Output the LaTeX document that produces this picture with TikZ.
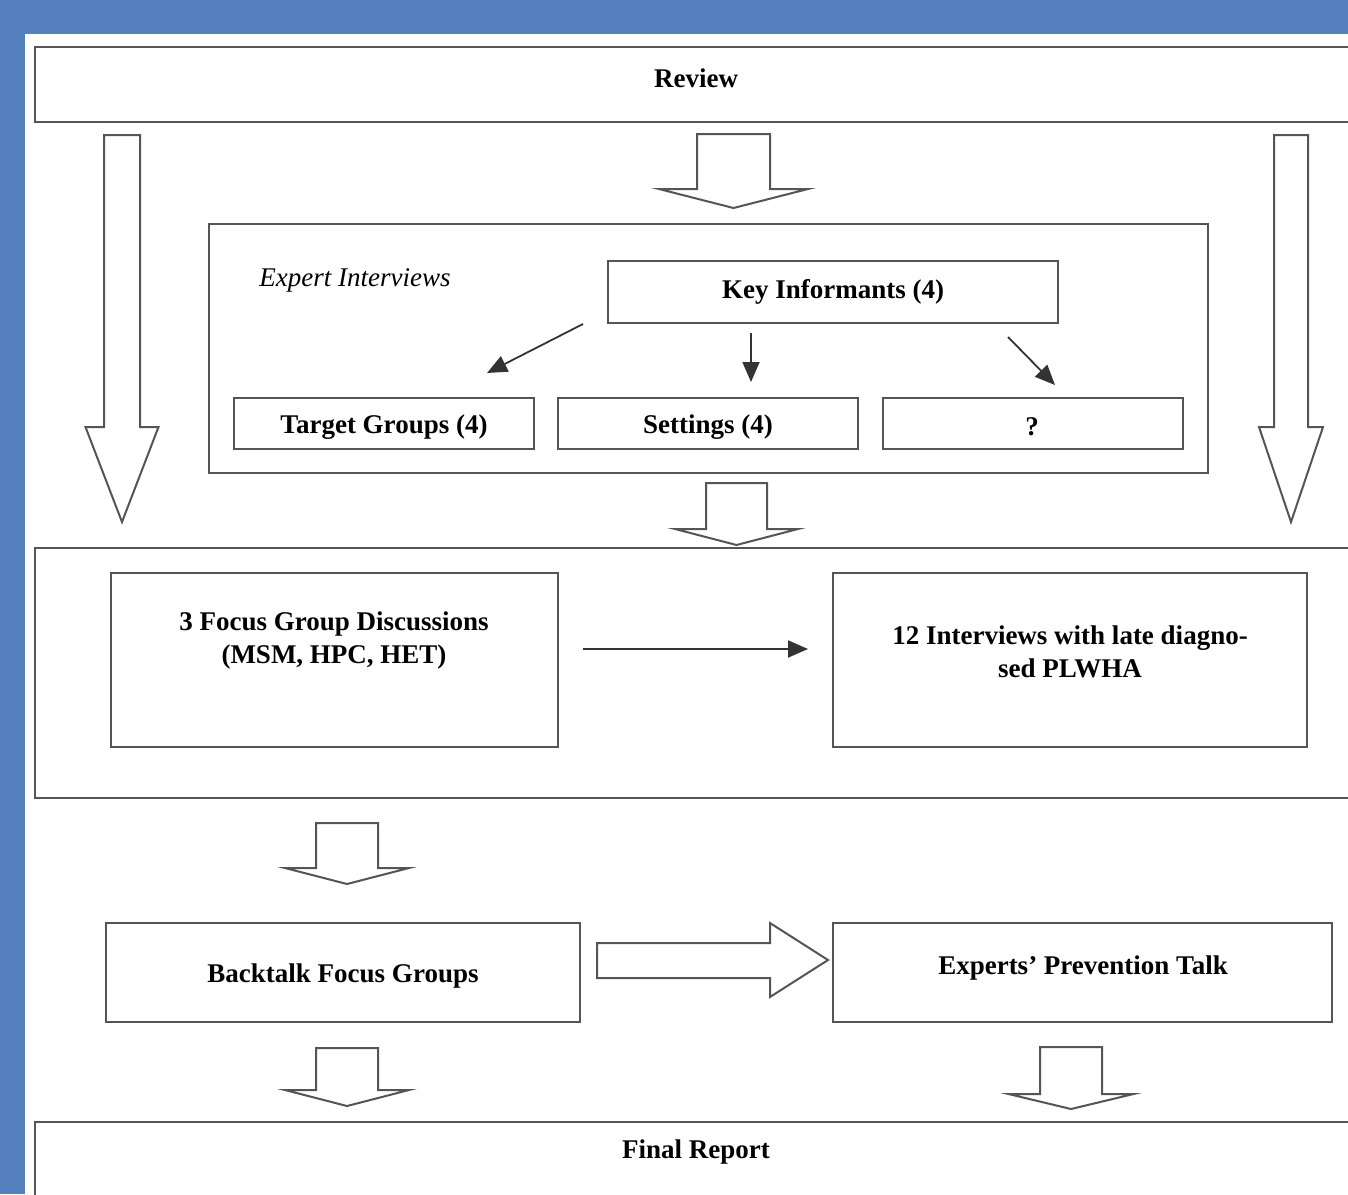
\documentclass[tikz,border=0pt]{standalone}
\usepackage{fontspec}
\setmainfont{Liberation Serif}
\usetikzlibrary{arrows.meta}
\definecolor{bgblue}{HTML}{5580BE}
\definecolor{edge}{HTML}{555555}
\newcommand{\blkdown}[6]{\draw[blk] (#1-#3,#2) -- (#1+#3,#2) -- (#1+#3,#4) -- (#1+#5,#4) -- (#1,#6) -- (#1-#5,#4) -- (#1-#3,#4) -- cycle;}
\begin{document}
\begin{tikzpicture}[x=1pt,y=-1pt,
  box/.style={draw=edge,line width=2pt,inner sep=0pt,outer sep=0pt,rectangle},
  lbl/.style={font=\fontsize{27}{33}\selectfont\bfseries,inner sep=0pt,align=center},
  blk/.style={draw=edge,line width=2pt,line join=miter,fill=white},
  thinarrow/.style={draw=black!80,line width=1.8pt,-{Triangle[length=20pt,width=17pt]}}]
\useasboundingbox (0,0) rectangle (1348,1194);
\fill[bgblue] (0,0) rectangle (1348,1194);
\fill[white] (25,34) rectangle (1348,1194);
\begin{scope}
\clip (25,34) rectangle (1348,1194);
% main boxes
\node[box,minimum width=1322pt,minimum height=75pt] (review) at (696,84.5) {};
\node[lbl] (reviewtxt) at (696,78) {Review};
\node[box,minimum width=999pt,minimum height=249pt] (expert) at (708.5,348.5) {};
\node[lbl,font=\fontsize{27}{33}\selectfont\itshape] (experttxt) at (355,280) {Expert Interviews};
\node[box,minimum width=450pt,minimum height=62pt] (key) at (833,292) {};
\node[lbl] (keytxt) at (833,292) {Key Informants (4)};
\node[box,minimum width=300pt,minimum height=51pt] (target) at (384,423.5) {};
\node[lbl] (targettxt) at (384,427) {Target Groups (4)};
\node[box,minimum width=300pt,minimum height=51pt] (settings) at (708,423.5) {};
\node[lbl] (settingstxt) at (708,427) {Settings (4)};
\node[box,minimum width=300pt,minimum height=51pt] (qbox) at (1033,423.5) {};
\node[lbl] (qtxt) at (1032,427) {?};
\node[box,minimum width=1322pt,minimum height=250pt] (middle) at (696,673) {};
\node[box,minimum width=447pt,minimum height=174pt] (fgd) at (334.5,660) {};
\node[lbl] (fgdtxt) at (334,640) {3 Focus Group Discussions\\(MSM, HPC, HET)};
\node[box,minimum width=474pt,minimum height=174pt] (intv) at (1070,660) {};
\node[lbl] (intvtxt) at (1070,652) {12 Interviews with late diagno-\\sed PLWHA};
\node[box,minimum width=474pt,minimum height=99pt] (backtalk) at (343,972.5) {};
\node[lbl] (backtalktxt) at (343,976) {Backtalk Focus Groups};
\node[box,minimum width=499pt,minimum height=99pt] (talk) at (1082.5,972.5) {};
\node[lbl] (talktxt) at (1083,968) {Experts’ Prevention Talk};
\node[box,minimum width=1322pt,minimum height=150pt] (final) at (696,1197) {};
\node[lbl] (finaltxt) at (696,1152) {Final Report};
% thin arrows
\draw[thinarrow] ([shift={(-25,1)}]key.south west) -- ([shift={(103,-25)}]target.north);
\draw[thinarrow] ([shift={(-82,10)}]key.south) -- ([shift={(43,-16)}]settings.north);
\draw[thinarrow] ([shift={(-50,14)}]key.south east) -- ([shift={(22,-13)}]qbox.north);
\draw[thinarrow] ([shift={(25,-11)}]fgd.east) -- ([shift={(-25,-11)}]intv.west);
% block arrows
\blkdown{122}{135}{18}{427}{36.5}{522}
\blkdown{1291}{135}{17}{427}{32}{522}
\blkdown{733.5}{134}{36.5}{189}{74.5}{208}
\blkdown{736.5}{483}{30.5}{529}{61.5}{545}
\blkdown{347}{823}{31}{868}{62}{884}
\blkdown{347}{1048}{31}{1090}{62}{1106}
\blkdown{1071}{1047}{31}{1094}{62.5}{1109}
\draw[blk] (597,943) -- (770,943) -- (770,923) -- (828,960) -- (770,997) -- (770,978) -- (597,978) -- cycle;
\end{scope}
\end{tikzpicture}
\end{document}
